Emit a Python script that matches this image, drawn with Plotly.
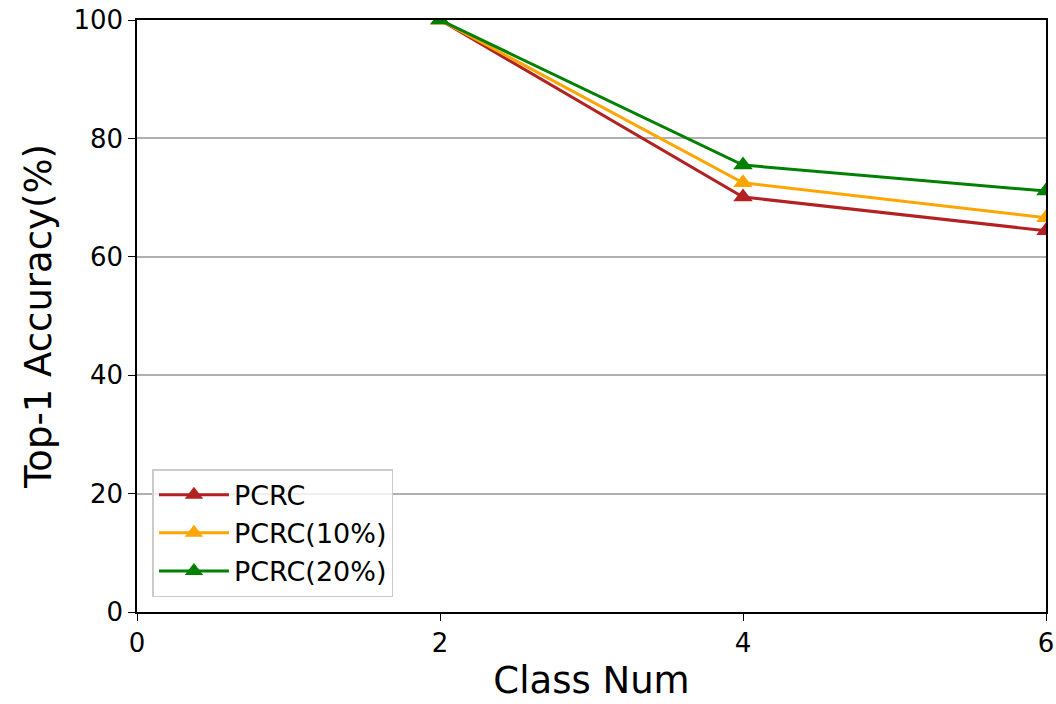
import plotly.graph_objects as go

class_num = [2, 4, 6]
pcrc = [100.0, 70.1, 64.4]
pcrc_10 = [100.0, 72.5, 66.6]
pcrc_20 = [100.0, 75.5, 71.1]

series = [("PCRC", pcrc, "#b22222"), ("PCRC(10%)", pcrc_10, "#ffa500"), ("PCRC(20%)", pcrc_20, "#008000")]

fig = go.Figure()
for name, ys, col in series:
    fig.add_trace(go.Scatter(x=class_num, y=ys, name=name, mode="lines+markers",
                             line=dict(color=col, width=3),
                             marker=dict(symbol="triangle-up", size=17, color=col)))

fig.update_layout(
    width=1056, height=704,
    margin=dict(l=137, r=10, t=20, b=92, autoexpand=False),
    plot_bgcolor="white", paper_bgcolor="white",
    font=dict(family="DejaVu Sans", size=27, color="black"),
    legend=dict(x=0.017, y=0.025, xanchor="left", yanchor="bottom",
                bgcolor="rgba(255,255,255,0.8)", bordercolor="#cccccc", borderwidth=1.5,
                font=dict(size=27), itemwidth=70, tracegroupgap=4),
)
fig.update_xaxes(range=[0, 6], tickvals=[0, 2, 4, 6], showgrid=False, zeroline=False,
                 showline=True, linecolor="black", linewidth=1.5, mirror=True,
                 ticks="outside", ticklen=7, tickcolor="black", automargin=False,
                 tickfont=dict(size=26),
                 title=dict(text="Class Num", font=dict(size=37), standoff=10))
fig.update_yaxes(range=[0, 100], tickvals=[0, 20, 40, 60, 80, 100], showgrid=True,
                 gridcolor="#b0b0b0", gridwidth=1.5, zeroline=False,
                 showline=True, linecolor="black", linewidth=1.5, mirror=True,
                 ticks="outside", ticklen=7, tickcolor="black", automargin=False,
                 tickfont=dict(size=26),
                 title=dict(text="Top-1 Accuracy(%)", font=dict(size=37), standoff=10))

fig.write_html("out.html")
